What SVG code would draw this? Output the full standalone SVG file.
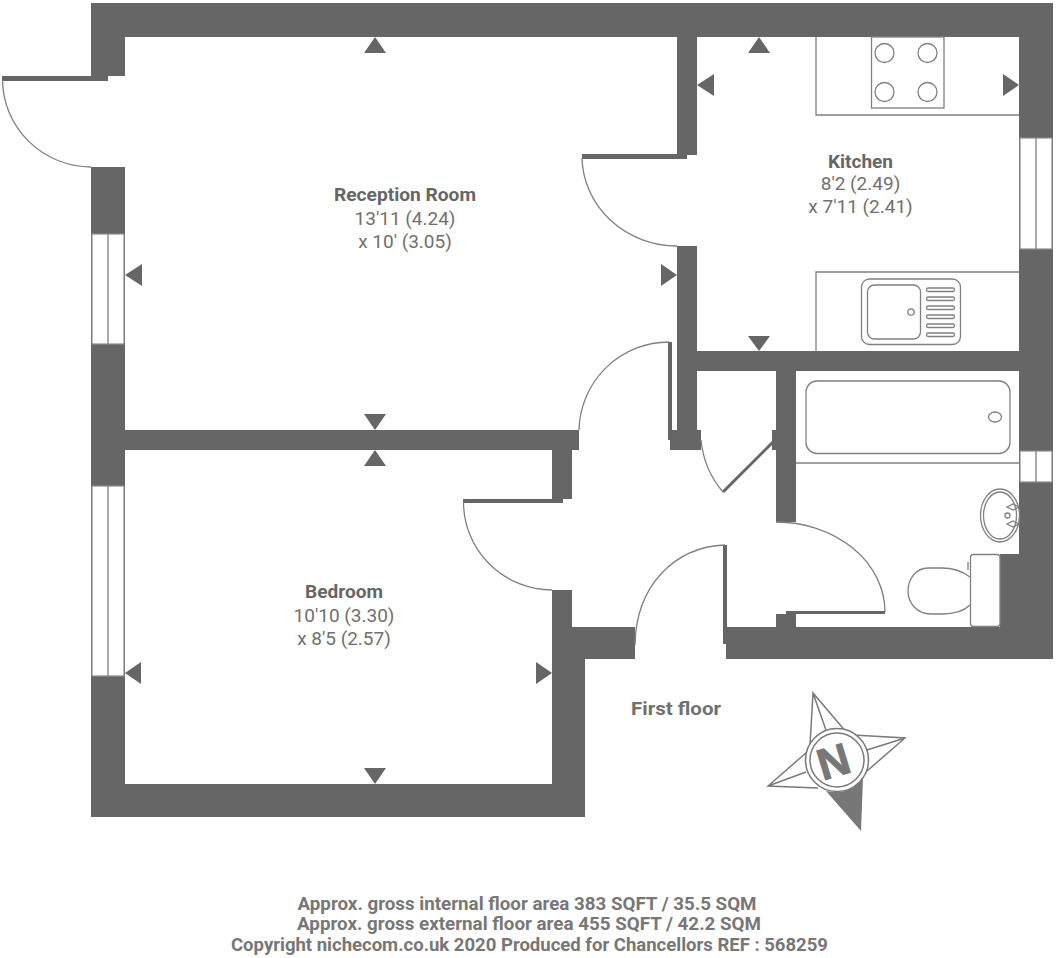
<svg xmlns="http://www.w3.org/2000/svg" width="1059" height="958" viewBox="0 0 1059 958">
<style>
.w{fill:#666}
.l{fill:none;stroke:#808080;stroke-width:1.3}
.c{fill:none;stroke:#7a7a7a;stroke-width:1.500}
.win{fill:#fff;stroke:#8c8c8c;stroke-width:1.2}
.a{fill:#666}
text{font-family:Roboto,"Open Sans","Liberation Sans",sans-serif;text-anchor:middle}
.t{font-size:18px;font-weight:700;fill:#666}
.d{font-size:19px;fill:#707070}
.f{font-size:19px;font-weight:700;fill:#707070}
.b{font-size:17.500px;font-weight:700;fill:#777}
.n{font-weight:700;fill:#777;stroke:#777;stroke-width:1}
</style>
<rect width="1059" height="958" fill="#fff"/>
<g id="walls">
<path class="w" d="M91 3H1053V659H726V627H776V614H786V611H796V627H1000V554H1019V37H697V351H1019V371H796V522H776V371H697V430H701V450H670V430H677V246H697V155H677V37H125V76H108V81H2V76H91Z"/>
<path class="w" d="M91 167H125V430H579V450H572V499H552V450H125V784H552V590H572V627H635V659H585V817H91Z"/>
<path class="w" d="M772 430H776V450H772Z"/>
<path class="w" d="M668 342H672V440H668Z"/>
<path class="w" d="M723 545H727V644H723Z"/>
<path class="w" d="M786 611H885V614H786Z"/>
<path class="w" d="M582 154H687V159H582Z"/>
<path class="w" d="M463 499H563V503H463Z"/>
<path d="M723 492L773 442" fill="none" stroke="#666" stroke-width="3"/>
</g>
<g id="windows">
<rect class="win" x="92" y="234" width="32" height="110"/><path class="l" d="M108 234V344"/>
<rect class="win" x="92" y="486" width="32" height="190"/><path class="l" d="M108 486V676"/>
<rect class="win" x="1020" y="138" width="32" height="111"/><path class="l" d="M1036 138V249"/>
<rect class="win" x="1020" y="451" width="32" height="31"/><path class="l" d="M1036 451V482"/>
</g>
<g id="door-arcs">
<path class="l" d="M2.500 80A89 88 0 0 0 91 167"/>
<path class="l" d="M669 342A90 90 0 0 0 579 430"/>
<path class="l" d="M582 158A95 90 0 0 0 677 246"/>
<path class="l" d="M463.500 502A89 88 0 0 0 552 590"/>
<path class="l" d="M701 440C703 460 711 478 723 492"/>
<path class="l" d="M776 522A109 90 0 0 1 885 612"/>
<path class="l" d="M725 545C675 547 636 585 635 645"/>
</g>
<g id="kitchen-fittings">
<path class="l" d="M816 37V115H1019M816 351V272H1019"/>
<rect class="l" x="871.500" y="37" width="72.500" height="71"/>
<circle class="l" cx="884.500" cy="53" r="9.500"/><circle class="l" cx="927.500" cy="53" r="9.500"/>
<circle class="l" cx="884.500" cy="92" r="9.500"/><circle class="l" cx="927.500" cy="92" r="9.500"/>
<rect class="l" x="861.500" y="279" width="99" height="65.500" rx="8"/>
<rect class="l" x="867.500" y="285" width="53" height="54" rx="7"/>
<circle class="l" cx="911" cy="312" r="3.200"/>
<rect class="l" x="926.500" y="288" width="28" height="3.500" rx="1.700"/>
<rect class="l" x="926.500" y="297" width="28" height="3.500" rx="1.700"/>
<rect class="l" x="926.500" y="306" width="28" height="3.500" rx="1.700"/>
<rect class="l" x="926.500" y="315" width="28" height="3.500" rx="1.700"/>
<rect class="l" x="926.500" y="324" width="28" height="3.500" rx="1.700"/>
<rect class="l" x="926.500" y="333" width="28" height="3.500" rx="1.700"/>
</g>
<g id="bathroom-fittings">
<rect class="l" x="806" y="381" width="204" height="72.500" rx="11"/>
<path class="l" d="M796 463H1019"/>
<ellipse class="l" cx="995" cy="417" rx="6.500" ry="5"/>
<ellipse class="l" cx="1000" cy="515.500" rx="19.500" ry="26.500"/>
<ellipse class="l" cx="1000" cy="515.500" rx="16.500" ry="23.500"/>
<circle class="l" cx="1007.500" cy="515.500" r="2.500"/>
<path class="l" d="M1007 507L1013 504L1019 507L1013 510ZM1007 524L1013 521L1019 524L1013 527Z"/>
<rect class="l" x="970.500" y="554.500" width="29.500" height="72" rx="3"/>
<path class="l" d="M970 577C962 571 954 568 942 568H928C916 568 908 579 908 591C908 603 917 614 931 614H942C954 614 963 612 970 605M968 562V570"/>
</g>
<g id="arrows">
<path class="a" d="M375 37L386 53H364Z"/>
<path class="a" d="M759 37L770 53H748Z"/>
<path class="a" d="M697 85L714 74V96Z"/>
<path class="a" d="M1019 85L1003 74V96Z"/>
<path class="a" d="M759 351L748 336H770Z"/>
<path class="a" d="M125 275L142 264V286Z"/>
<path class="a" d="M677 275L661 264V286Z"/>
<path class="a" d="M375 430L364 414H386Z"/>
<path class="a" d="M375 450L386 466H364Z"/>
<path class="a" d="M125 673L141 662V684Z"/>
<path class="a" d="M552 673L536 662V684Z"/>
<path class="a" d="M375 784L364 768H386Z"/>
</g>
<g id="compass">
<path fill="#777" d="M863 778L861 831L826 791Q850 796 863 778Z"/>
<path class="c" d="M810 745L813 693L847 733M813 693L827 733M853 735L905 738L867 771M905 738L867 750M807 752L768 786L818 788M768 786L806 772"/>
<circle cx="837" cy="760" r="31.500" fill="#fff" stroke="#7a7a7a" stroke-width="1.500"/>
<circle cx="837" cy="760" r="27" fill="#fff" stroke="#7a7a7a" stroke-width="1.500"/>
<text class="n" transform="translate(838 776) rotate(-17)" font-size="44" style="font-family:'Liberation Sans',sans-serif">N</text>
</g>
<g id="labels">
<text class="t" x="405" y="201" textLength="142" lengthAdjust="spacingAndGlyphs">Reception Room</text>
<text class="d" x="405" y="225">13'11 (4.24)</text>
<text class="d" x="405" y="248">x 10' (3.05)</text>
<text class="t" x="860.500" y="167.500" textLength="65" lengthAdjust="spacingAndGlyphs">Kitchen</text>
<text class="d" x="860.500" y="190">8'2 (2.49)</text>
<text class="d" x="860.500" y="213">x 7'11 (2.41)</text>
<text class="t" x="344" y="598" textLength="78" lengthAdjust="spacingAndGlyphs">Bedroom</text>
<text class="d" x="344" y="622">10'10 (3.30)</text>
<text class="d" x="344" y="645">x 8'5 (2.57)</text>
<text class="f" x="676" y="715" textLength="90" lengthAdjust="spacingAndGlyphs">First floor</text>
<text class="b" x="527" y="909.500" textLength="459" lengthAdjust="spacingAndGlyphs">Approx. gross internal floor area 383 SQFT / 35.5 SQM</text>
<text class="b" x="529" y="930" textLength="464" lengthAdjust="spacingAndGlyphs">Approx. gross external floor area 455 SQFT / 42.2 SQM</text>
<text class="b" x="529.500" y="951" textLength="597" lengthAdjust="spacingAndGlyphs">Copyright nichecom.co.uk 2020 Produced for Chancellors REF : 568259</text>
</g>
</svg>
